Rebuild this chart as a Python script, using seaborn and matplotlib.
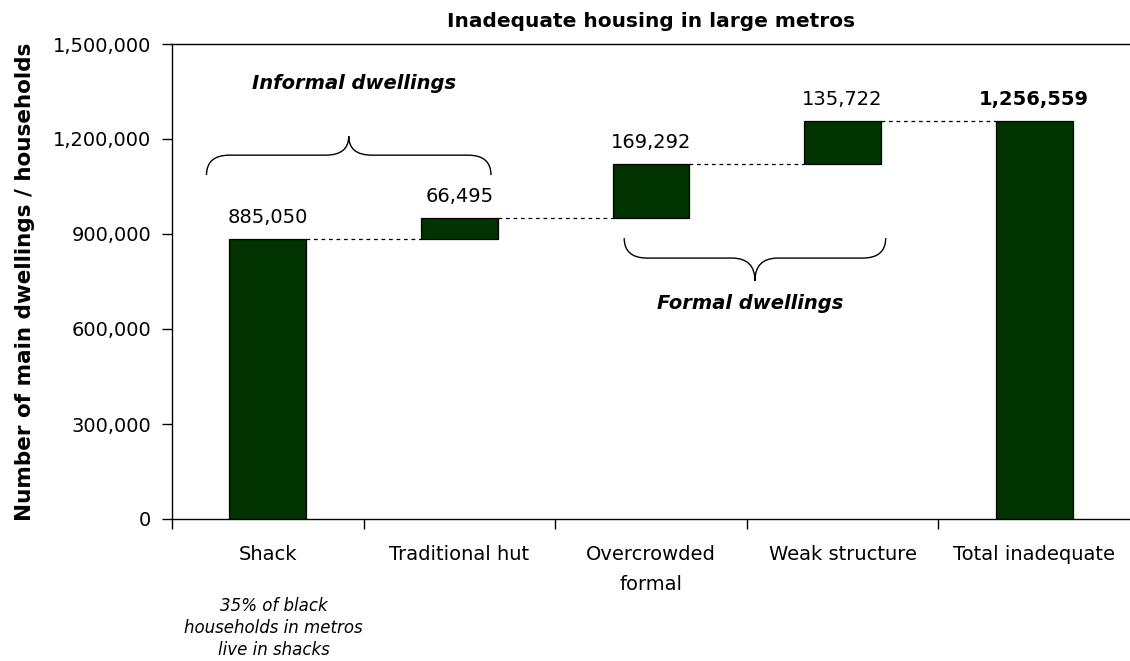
import matplotlib
matplotlib.use("Agg")
import matplotlib.pyplot as plt
from matplotlib.path import Path
from matplotlib.patches import PathPatch
from matplotlib.ticker import FixedLocator, StrMethodFormatter
import numpy as np
import pandas as pd
import seaborn as sns

# Waterfall components (households in large metros)
categories = ["Shack", "Traditional hut", "Overcrowded\nformal", "Weak structure", "Total inadequate"]
step_values = [885050, 66495, 169292, 135722]
total_value = 1256559
value_labels = ["885,050", "66,495", "169,292", "135,722", "1,256,559"]
y_ticks = [0, 300000, 600000, 900000, 1200000, 1500000]

heights = step_values + [total_value]
bases = list(np.concatenate([[0], np.cumsum(step_values)[:-1]])) + [0]
df = pd.DataFrame({"category": categories, "height": heights, "base": bases})

sns.set_theme(style="white")
plt.rcParams["font.family"] = ["DejaVu Sans"]
plt.rcParams["text.color"] = "black"
plt.rcParams["axes.labelcolor"] = "black"
plt.rcParams["xtick.color"] = "black"
plt.rcParams["ytick.color"] = "black"

fig = plt.figure(figsize=(11.3, 6.61), dpi=100)
ax = fig.add_axes([172 / 1130, 142 / 661, 958 / 1130, 475 / 661])

GREEN = "#003300"
sns.barplot(data=df, x="category", y="height", order=categories, ax=ax,
            color=GREEN, width=0.4, edgecolor="black", linewidth=0.9,
            saturation=1)

# lift each floating bar onto the running total
for patch, b in zip(ax.patches, df["base"]):
    patch.set_y(b)

# dashed connectors between consecutive bar tops
tops = [b + h for b, h in zip(df["base"], df["height"])]
for i in range(len(categories) - 1):
    left = ax.patches[i]
    right = ax.patches[i + 1]
    x0 = left.get_x() + left.get_width()
    x1 = right.get_x()
    ax.plot([x0, x1], [tops[i], tops[i]], color="black", lw=0.9,
            ls=(0, (3, 3)), zorder=1)

# value labels above each bar
for i, patch in enumerate(ax.patches):
    cx = patch.get_x() + patch.get_width() / 2
    ax.annotate(value_labels[i], (cx, tops[i]), xytext=(0, 12),
                textcoords="offset pixels", ha="center", va="bottom",
                fontsize=14, color="black",
                fontweight="bold" if i == len(categories) - 1 else "normal")

ax.set_xlim(-0.5, 4.5)
ax.set_ylim(0, 1500000)
ax.yaxis.set_major_locator(FixedLocator(y_ticks))
ax.yaxis.set_major_formatter(StrMethodFormatter("{x:,.0f}"))

ax.set_xlabel("")
ax.set_ylabel("Number of main dwellings / households", fontsize=15.5,
              fontweight="bold", labelpad=13)
ax.set_title("Inadequate housing in large metros", fontsize=14.5,
             fontweight="bold", pad=12)

for side in ["left", "bottom", "top"]:
    ax.spines[side].set_visible(True)
    ax.spines[side].set_color("black")
    ax.spines[side].set_linewidth(1.0)
ax.spines["right"].set_visible(False)

ax.tick_params(axis="y", which="major", direction="out", length=7, width=1,
               color="black", labelsize=14, pad=8, left=True)
ax.xaxis.set_minor_locator(FixedLocator([-0.5, 0.5, 1.5, 2.5, 3.5]))
ax.tick_params(axis="x", which="major", length=0, labelsize=14, pad=19)
ax.tick_params(axis="x", which="minor", direction="out", length=7, width=1,
               color="black", bottom=True)
for lab in ax.get_xticklabels():
    lab.set_linespacing(1.7)
    lab.set_verticalalignment("top")


def brace(ax, x0, x1, y_end, y_flat, y_tip, r):
    xm = (x0 + x1) / 2
    verts = [(x0, y_end), (x0, y_flat), (x0 + r, y_flat),
             (xm - r, y_flat),
             (xm, y_flat), (xm, y_tip),
             (xm, y_flat), (xm + r, y_flat),
             (x1 - r, y_flat),
             (x1, y_flat), (x1, y_end)]
    codes = [Path.MOVETO, Path.CURVE3, Path.CURVE3,
             Path.LINETO,
             Path.CURVE3, Path.CURVE3,
             Path.CURVE3, Path.CURVE3,
             Path.LINETO,
             Path.CURVE3, Path.CURVE3]
    ax.add_patch(PathPatch(Path(verts, codes), fill=False, edgecolor="black",
                           lw=1.0, clip_on=False))


brace(ax, -0.32, 1.165, 1086000, 1149000, 1209000, 0.12)
brace(ax, 1.86, 3.225, 887000, 824000, 752000, 0.12)

ax.text(0.45, 1374000, "Informal dwellings", ha="center", va="center",
        fontsize=14, fontweight="bold", fontstyle="italic")
ax.text(2.52, 679000, "Formal dwellings", ha="center", va="center",
        fontsize=14, fontweight="bold", fontstyle="italic")

ax.text(0.03, -0.164, "35% of black\nhouseholds in metros\nlive in shacks",
        transform=ax.get_xaxis_transform(), ha="center", va="top",
        fontsize=12, fontstyle="italic", linespacing=1.28)

fig.savefig("out.png", dpi=100)
